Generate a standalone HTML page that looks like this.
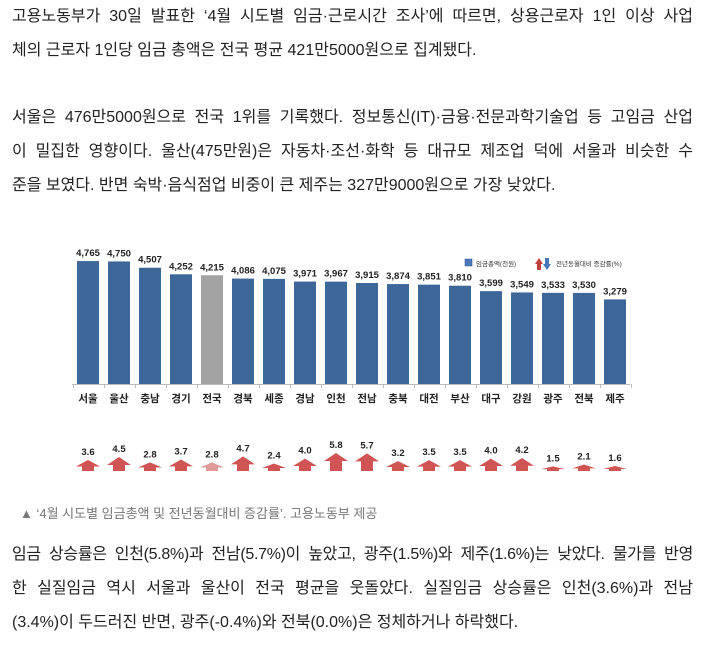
<!DOCTYPE html>
<html><head><meta charset="utf-8"><style>
html,body{margin:0;padding:0;background:#fff;}
body{width:719px;height:655px;position:relative;overflow:hidden;font-family:"Liberation Sans","Noto Sans CJK KR","NanumGothic",sans-serif;color:#222;}
.l{position:absolute;left:12px;width:681px;font-size:16px;line-height:20px;white-space:nowrap;}
.j{text-align:justify;text-align-last:justify;white-space:normal;height:20px;overflow:visible;}
.cap{position:absolute;left:20px;top:503px;font-size:13px;color:#777;}
svg{position:absolute;left:0;top:0;}
</style></head><body>
<div class="l j" style="top:7px">고용노동부가 30일 발표한 ‘4월 시도별 임금·근로시간 조사’에 따르면, 상용근로자 1인 이상 사업</div>
<div class="l" style="top:41px">체의 근로자 1인당 임금 총액은 전국 평균 421만5000원으로 집계됐다.</div>
<div class="l j" style="top:108px">서울은 476만5000원으로 전국 1위를 기록했다. 정보통신(IT)·금융·전문과학기술업 등 고임금 산업</div>
<div class="l j" style="top:142px">이 밀집한 영향이다. 울산(475만원)은 자동차·조선·화학 등 대규모 제조업 덕에 서울과 비슷한 수</div>
<div class="l" style="top:176px">준을 보였다. 반면 숙박·음식점업 비중이 큰 제주는 327만9000원으로 가장 낮았다.</div>
<div class="cap">▲ ‘4월 시도별 임금총액 및 전년동월대비 증감률’. 고용노동부 제공</div>
<div class="l j" style="top:545px;letter-spacing:-0.3px">임금 상승률은 인천(5.8%)과 전남(5.7%)이 높았고, 광주(1.5%)와 제주(1.6%)는 낮았다. 물가를 반영</div>
<div class="l j" style="top:579px">한 실질임금 역시 서울과 울산이 전국 평균을 웃돌았다. 실질임금 상승률은 인천(3.6%)과 전남</div>
<div class="l" style="top:613px">(3.4%)이 두드러진 반면, 광주(-0.4%)와 전북(0.0%)은 정체하거나 하락했다.</div>
<svg id="s" width="719" height="655" xmlns="http://www.w3.org/2000/svg" font-family="Liberation Sans, Noto Sans CJK KR, sans-serif"></svg>
<script>
(function(){
var names=["서울","울산","충남","경기","전국","경북","세종","경남","인천","전남","충북","대전","부산","대구","강원","광주","전북","제주"];
var vals=[4765,4750,4507,4252,4215,4086,4075,3971,3967,3915,3874,3851,3810,3599,3549,3533,3530,3279];
var pct=[3.6,4.5,2.8,3.7,2.8,4.7,2.4,4.0,5.8,5.7,3.2,3.5,3.5,4.0,4.2,1.5,2.1,1.6];
var h='<line x1="72" y1="384.5" x2="630" y2="384.5" stroke="#bbb"/>';
for(var i=0;i<=18;i++){var tx=73.5+31*i;h+='<line x1="'+tx+'" y1="384" x2="'+tx+'" y2="388" stroke="#bbb"/>';}
for(var i=0;i<18;i++){
 var x=77+31*i,bh=vals[i]*0.0258,ty=384-bh,cx=x+11;
 h+='<rect x="'+x+'" y="'+ty+'" width="22" height="'+bh+'" fill="'+(i==4?'#a3a3a3':'#3d6699')+'"/>';
 h+='<text x="'+cx+'" y="'+(ty-5)+'" font-size="9.5" font-weight="bold" text-anchor="middle" fill="#222">'+vals[i].toLocaleString('en-US')+'</text>';
 h+='<text x="'+cx+'" y="402" font-size="10.5" font-weight="bold" text-anchor="middle" fill="#222">'+names[i]+'</text>';
 var ah=pct[i]*3.1,at=471-ah,hh=Math.min(8,ah*0.6),sh=at+hh;
 var c=i==4?'#e09a9a':'#d05454';
 h+='<polygon points="'+(cx-12)+','+sh+' '+cx+','+at+' '+(cx+12)+','+sh+' '+(cx+6)+','+sh+' '+(cx+6)+',471 '+(cx-6)+',471 '+(cx-6)+','+sh+'" fill="'+c+'"/>';
 h+='<text x="'+cx+'" y="'+(at-5)+'" font-size="9.5" font-weight="bold" text-anchor="middle" fill="#222">'+pct[i].toFixed(1)+'</text>';
}
h+='<rect x="465" y="259" width="7" height="7" fill="#4a78b8" stroke="#2d5590" stroke-width="0.5"/>';
h+='<text x="476" y="266" font-size="6.5" fill="#333">임금총액(천원)</text>';
h+='<polygon points="535,264 539,258 543,264 541,264 541,270 537,270 537,264" fill="#c04040"/>';
h+='<polygon points="543,264 547,270 551,264 549,264 549,258 545,258 545,264" fill="#4a78b8"/>';
h+='<text x="556" y="266" font-size="6.5" fill="#333">전년동월대비 증감률(%)</text>';
document.getElementById('s').innerHTML=h;
})();
</script>
</body></html>
